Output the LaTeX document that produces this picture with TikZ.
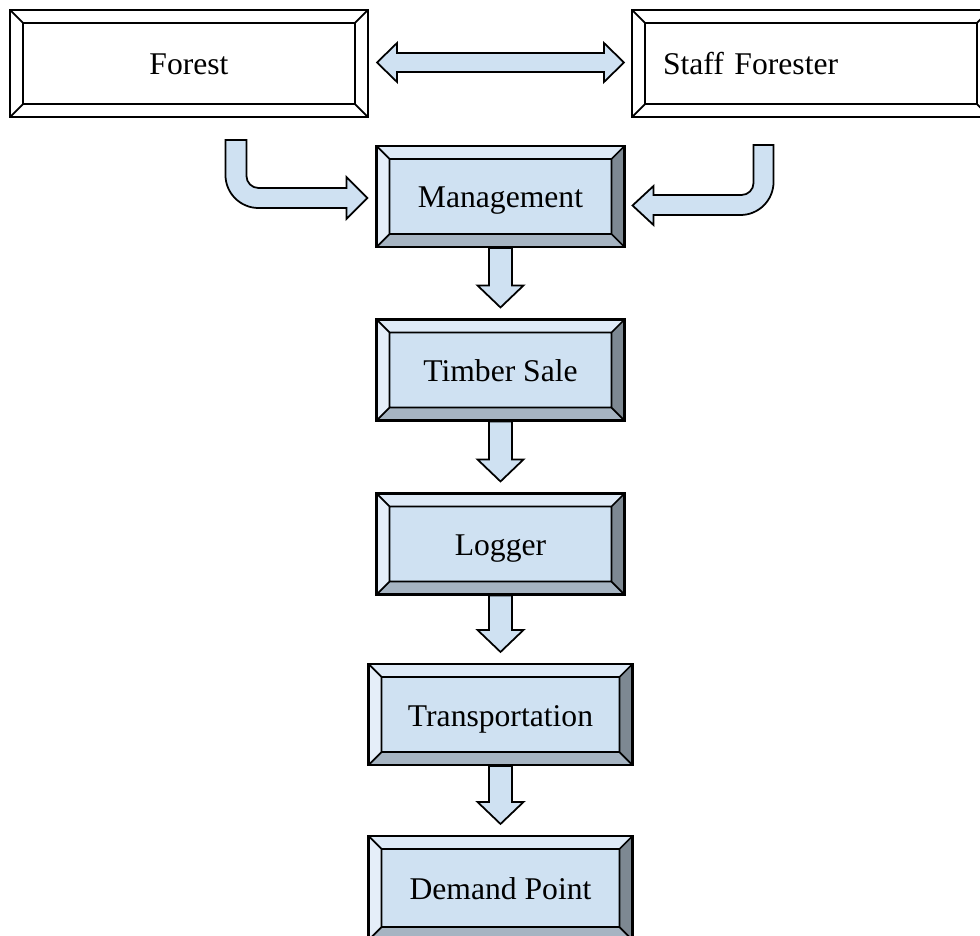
\documentclass[tikz,border=0pt]{standalone}
\usepackage{fontspec}
\setmainfont{Liberation Serif}
\usetikzlibrary{calc}

\definecolor{boxfill}{RGB}{207,225,242}
\definecolor{bevtop}{RGB}{222,234,247}
\definecolor{bevleft}{RGB}{229,238,249}
\definecolor{bevright}{RGB}{125,136,146}
\definecolor{bevbottom}{RGB}{166,180,194}

% bevel faces of a box: top, left, right, bottom
\newcommand{\bevel}[4]{%
  \coordinate (nw) at (path picture bounding box.north west);
  \coordinate (ne) at (path picture bounding box.north east);
  \coordinate (sw) at (path picture bounding box.south west);
  \coordinate (se) at (path picture bounding box.south east);
  \coordinate (inw) at ([shift={(0.26cm,-0.26cm)}]nw);
  \coordinate (ine) at ([shift={(-0.26cm,-0.26cm)}]ne);
  \coordinate (isw) at ([shift={(0.26cm,0.26cm)}]sw);
  \coordinate (ise) at ([shift={(-0.26cm,0.26cm)}]se);
  \fill[#1] (nw) -- (ne) -- (ine) -- (inw) -- cycle;
  \fill[#2] (nw) -- (sw) -- (isw) -- (inw) -- cycle;
  \fill[#3] (ne) -- (se) -- (ise) -- (ine) -- cycle;
  \fill[#4] (sw) -- (se) -- (ise) -- (isw) -- cycle;
  \draw[line width=1pt] (inw) rectangle (ise) (nw) -- (inw) (ne) -- (ine) (sw) -- (isw) (se) -- (ise);
}

\tikzset{
  bluebox/.style={draw=black, line width=1.2pt, fill=boxfill, inner sep=0pt,
    minimum width=4.96cm, minimum height=2.02cm, text height=0.46cm, text depth=0pt,
    font=\fontsize{18}{21}\selectfont,
    path picture={\bevel{bevtop}{bevleft}{bevright}{bevbottom}}},
  whitebox/.style={bluebox, fill=white, minimum width=7.16cm, minimum height=2.14cm,
    path picture={\bevel{white}{white}{white}{white}}},
  blockarrow/.style={draw=black, line width=1pt, fill=boxfill},
}

\begin{document}
\begin{tikzpicture}[x=0.02cm, y=-0.02cm]
\useasboundingbox (0,0) rectangle (980,936);
\clip (0,0) rectangle (980,936);

\node[whitebox] (forest) at (189,63.5) {Forest};
\node[whitebox, text width=5.92cm, align=left] (staff) at (811,63.5) {Staff Forester};
\node[bluebox] (mgmt) at (500.5,196.5) {Management};
\node[bluebox] (sale) at (500.5,370) {Timber Sale};
\node[bluebox] (logger) at (500.5,544) {Logger};
\node[bluebox, minimum width=5.28cm] (trans) at (500.5,714.5) {Transportation};
\node[bluebox, minimum width=5.28cm, minimum height=2.08cm] (demand) at (500.5,888) {Demand Point};

% forest <-> staff forester
\coordinate (dl) at ($(forest.east)+(8,-1)$);
\coordinate (dr) at ($(staff.west)+(-7,-1)$);
\draw[blockarrow] (dl) -- ++(20,-19.5) -- ++(0,10) -- ($(dr)+(-20,-9.5)$) -- ++(0,-10) -- (dr) -- ++(-20,19.5) -- ++(0,-10) -- ($(dl)+(20,9.5)$) -- ++(0,10) -- cycle;

% bent arrows into management
\begin{scope}[shift={(mgmt.west)}]
\draw[blockarrow] (-150,-56.5) -- (-150,-21.5) .. controls (-150,-3.3) and (-135.2,11.5) .. (-117,11.5) -- (-29,11.5) -- (-29,22.5) -- (-8,1.5) -- (-29,-19.5) -- (-29,-8.5) -- (-117,-8.5) .. controls (-123.6,-8.5) and (-129,-13.9) .. (-129,-20.5) -- (-129,-56.5) -- cycle;
\end{scope}
\begin{scope}[shift={(mgmt.east)}]
\draw[blockarrow] (148,-51.5) -- (148,-14.5) .. controls (148,3.7) and (133.2,18.5) .. (115,18.5) -- (28,18.5) -- (28,28.5) -- (7,9) -- (28,-10.5) -- (28,-1.5) -- (116,-1.5) .. controls (122.6,-1.5) and (128,-6.9) .. (128,-13.5) -- (128,-51.5) -- cycle;
\end{scope}

% down arrows
\foreach \a/\b in {mgmt/sale, sale/logger, logger/trans, trans/demand}
  \draw[blockarrow] ($(\a.south)+(-11.5,0)$) -- ($(\b.north)+(-11.5,-33)$) -- ($(\b.north)+(-23,-33)$) -- ($(\b.north)+(0,-11)$) -- ($(\b.north)+(23,-33)$) -- ($(\b.north)+(11.5,-33)$) -- ($(\a.south)+(11.5,0)$) -- cycle;
\end{tikzpicture}
\end{document}
